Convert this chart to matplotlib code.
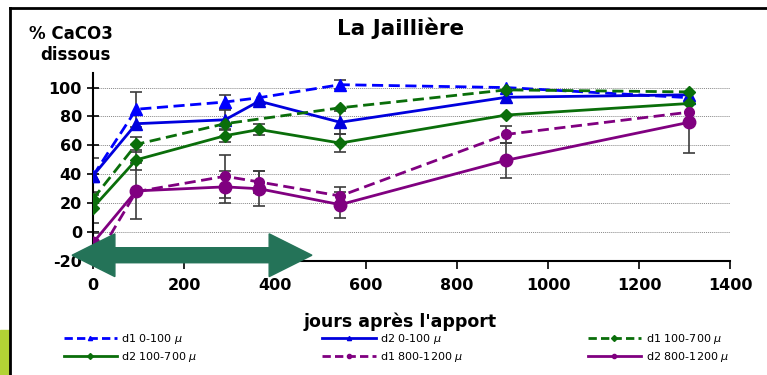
import numpy as np
import matplotlib.pyplot as plt
from matplotlib.lines import Line2D
from matplotlib.patches import Polygon, Rectangle

# jours après l'apport
jours = [0, 95, 290, 365, 543, 908, 1310]

# % CaCO3 dissous (None = pas de mesure)
d1_0_100 = [39, 85, 90, 93, 102, 100, 93]
d2_0_100 = [39, 75, 77.7, 90.6, 76, 93.3, 95]
d1_100_700 = [23, 60.7, 75, None, 86, 98.4, 97]
d2_100_700 = [17, 50, 66.7, 71, 61.6, 81, 89]
d1_800_1200 = [-22, 28, 38.6, 34.7, 25, 67.6, 83]
d2_800_1200 = [-7.4, 28.5, 31.3, 30, 19, 49.7, 76]

# écarts-types (0 = pas de barre)
err_d1_0_100 = [12, 12, 5, 0, 3, 0, 0]
err_d2_0_100 = [0, 0, 7, 0, 8, 0, 0]
err_d1_100_700 = [3, 5, 0, 0, 0, 0, 0]
err_d2_100_700 = [11, 7, 4.5, 3.5, 6, 0, 0]
err_d1_800_1200 = [0, 0, 15, 7.5, 6, 6, 0]
err_d2_800_1200 = [7, 19.5, 11, 12, 9, 12, 21]

labels = ['d1 0-100 $\\mu$', 'd2 0-100 $\\mu$', 'd1 100-700 $\\mu$',
          'd2 100-700 $\\mu$', 'd1 800-1200 $\\mu$', 'd2 800-1200 $\\mu$']

series = [
    (d1_0_100, err_d1_0_100, '#0000ff', '--', '^', 9),
    (d2_0_100, err_d2_0_100, '#0000dd', '-', '^', 9),
    (d1_100_700, err_d1_100_700, '#0a6e0a', '--', 'D', 6),
    (d2_100_700, err_d2_100_700, '#0a6e0a', '-', 'D', 6),
    (d1_800_1200, err_d1_800_1200, '#800080', '--', 'o', 7),
    (d2_800_1200, err_d2_800_1200, '#800080', '-', 'o', 9),
]

plt.rcParams['font.family'] = 'DejaVu Sans'
plt.rcParams['axes.unicode_minus'] = False

fig = plt.figure(figsize=(7.67, 3.75), dpi=100)
ax = fig.add_axes([0.1213, 0.304, 0.8307, 0.501])

handles = []
for (vals, errs, col, ls, mk, ms), lab in zip(series, labels):
    x = [j for j, v in zip(jours, vals) if v is not None]
    y = [v for v in vals if v is not None]
    e = [er for er, v in zip(errs, vals) if v is not None]
    # barres d'erreur seulement là où il y en a
    xe = [a for a, b in zip(x, e) if b > 0]
    ye = [a for a, b in zip(y, e) if b > 0]
    ee = [b for b in e if b > 0]
    ax.errorbar(xe, ye, yerr=ee, fmt='none', ecolor='#3c3c3c', elinewidth=1.2,
                capsize=4, capthick=1.2, zorder=2)
    ax.plot(x, y, color=col, linestyle=ls, linewidth=2, marker=mk, markersize=ms,
            dashes=(4, 2) if ls == '--' else (None, None), zorder=3)
    handles.append(Line2D([], [], color=col, linestyle=ls, linewidth=2, marker=mk,
                          markersize=3, dashes=(3, 1.5) if ls == '--' else (None, None)))

ax.set_xlim(0, 1400)
ax.set_ylim(-20, 110)
ax.set_xticks(np.arange(0, 1401, 200))
ax.set_yticks(np.arange(-20, 101, 20))
for v in range(0, 101, 20):
    ax.axhline(v, color='#888888', linestyle=(0, (1, 1)), linewidth=0.7, zorder=1)

ax.spines['top'].set_visible(False)
ax.spines['right'].set_visible(False)
ax.spines['left'].set_linewidth(1.5)
ax.spines['bottom'].set_linewidth(1.5)
ax.tick_params(axis='y', direction='inout', length=8, width=1.2, labelsize=11.5, pad=4)
ax.tick_params(axis='x', direction='out', length=6, width=1.2, labelsize=11.5, pad=6)
for t in ax.get_xticklabels() + ax.get_yticklabels():
    t.set_fontweight('bold')

# grosse flèche verte
x0, x1, yc = -46, 481, -16
hl, hh, sh = 94, 14.8, 5.2
pts = [(x0, yc), (x0 + hl, yc + hh), (x0 + hl, yc + sh), (x1 - hl, yc + sh),
       (x1 - hl, yc + hh), (x1, yc), (x1 - hl, yc - hh), (x1 - hl, yc - sh),
       (x0 + hl, yc - sh), (x0 + hl, yc - hh)]
ax.add_patch(Polygon(pts, closed=True, color='#247358', zorder=6, clip_on=False))

fig.text(0.522, 0.925, 'La Jaillière', ha='center', va='center', fontsize=15.5,
         fontweight='bold')
fig.text(0.038, 0.91, '% CaCO3', ha='left', va='center', fontsize=12, fontweight='bold')
fig.text(0.052, 0.853, 'dissous', ha='left', va='center', fontsize=12, fontweight='bold')
fig.text(0.522, 0.142, "jours après l'apport", ha='center', va='center', fontsize=12.5,
         fontweight='bold')

# légende : ordre par lignes sur 3 colonnes
order = [0, 3, 1, 4, 2, 5]
fig.legend([handles[i] for i in order], [labels[i] for i in order], ncol=3,
           loc='center left', bbox_to_anchor=(0.07, 0.072), frameon=False, fontsize=8,
           handlelength=4.8, handletextpad=0.4, columnspacing=11.2, labelspacing=0.35)

# cadre et bandeau
fig.add_artist(Line2D([10 / 767, 1], [1 - 8 / 375, 1 - 8 / 375], color='black', linewidth=2))
fig.add_artist(Line2D([10 / 767, 10 / 767], [0, 1 - 8 / 375], color='black', linewidth=2))
fig.add_artist(Rectangle((0, 0), 9 / 767, 45 / 375, color='#b2d235', transform=fig.transFigure))

fig.savefig('out.png', dpi=100)
